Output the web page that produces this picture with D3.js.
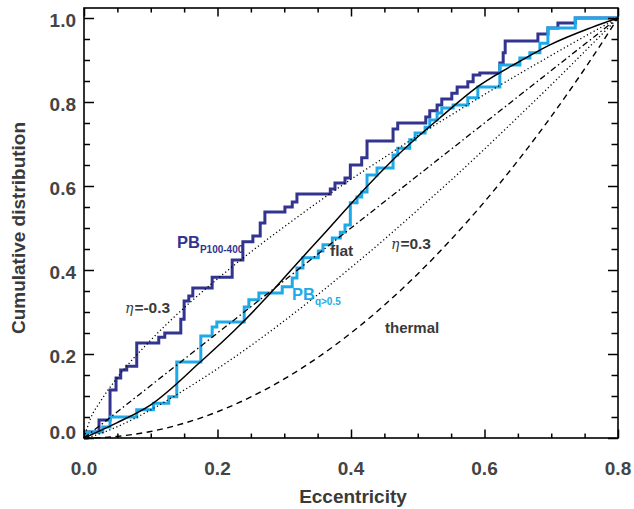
<!DOCTYPE html>
<html><head><meta charset="utf-8">
<script src="https://cdn.jsdelivr.net/npm/d3@7"></script>
<style>
html,body{margin:0;padding:0;background:#fff;}
svg{display:block;}
</style></head>
<body>
<svg id="chart" width="634" height="509"></svg>
<script>
// ---- data ----
const xMajorTicks = [0, 0.2, 0.4, 0.6, 0.8];
const xTickLabels = ["0.0", "0.2", "0.4", "0.6", "0.8"];
const xMinorTicks = [0.05,0.1,0.15,0.25,0.3,0.35,0.45,0.5,0.55,0.65,0.7,0.75];
const yMajorTicks = [0, 0.2, 0.4, 0.6, 0.8, 1.0];
const yTickLabels = ["0.0", "0.2", "0.4", "0.6", "0.8", "1.0"];
const yMinorTicks = [0.05,0.1,0.15,0.25,0.3,0.35,0.45,0.5,0.55,0.65,0.7,0.75,0.85,0.9,0.95];

// theoretical curves
const modelE      = [0, 0.01, 0.025, 0.05, 0.1, 0.15, 0.2, 0.25, 0.3, 0.35, 0.4, 0.45, 0.5, 0.55, 0.6, 0.65, 0.7, 0.75, 0.8];
const etaMinusF   = [0, 0.047, 0.088, 0.144, 0.233, 0.310, 0.379, 0.443, 0.503, 0.561, 0.616, 0.668, 0.720, 0.769, 0.818, 0.865, 0.911, 0.956, 1.0];
const etaPlusF    = [0, 0.003, 0.011, 0.027, 0.067, 0.114, 0.165, 0.220, 0.279, 0.341, 0.406, 0.473, 0.543, 0.614, 0.688, 0.764, 0.841, 0.920, 1.0];
const thermalF    = [0, 0.0002, 0.001, 0.0039, 0.0156, 0.0352, 0.0625, 0.0977, 0.1406, 0.1914, 0.25, 0.3164, 0.3906, 0.4727, 0.5625, 0.6602, 0.7656, 0.8789, 1.0];
const uniformF    = [0, 0.0125, 0.031, 0.0625, 0.125, 0.1875, 0.25, 0.3125, 0.375, 0.4375, 0.5, 0.5625, 0.625, 0.6875, 0.75, 0.8125, 0.875, 0.9375, 1.0];
const flatE       = [0, 0.049, 0.1, 0.175, 0.226, 0.27, 0.313, 0.36, 0.411, 0.473, 0.533, 0.593, 0.653, 0.698, 0.758, 0.8];
const flatF       = [0, 0.036, 0.079, 0.182, 0.257, 0.329, 0.405, 0.487, 0.577, 0.678, 0.762, 0.840, 0.897, 0.936, 0.976, 1.0];

// empirical cumulative distributions
const pb100E = [0, 0.0045, 0.0225, 0.039, 0.048, 0.055, 0.064, 0.079, 0.112, 0.121, 0.145, 0.150, 0.157, 0.163, 0.192, 0.222, 0.238, 0.253, 0.264, 0.271, 0.301, 0.312, 0.319, 0.369, 0.376, 0.391, 0.399, 0.416, 0.424, 0.463, 0.470, 0.512, 0.518, 0.529, 0.536, 0.551, 0.559, 0.575, 0.583, 0.593, 0.623, 0.628, 0.631, 0.680, 0.695, 0.710, 0.736, 0.8];
const pb100F = [0, 0.014, 0.043, 0.114, 0.143, 0.162, 0.171, 0.226, 0.240, 0.250, 0.283, 0.326, 0.338, 0.357, 0.383, 0.424, 0.467, 0.481, 0.512, 0.538, 0.550, 0.562, 0.581, 0.593, 0.607, 0.619, 0.650, 0.667, 0.707, 0.736, 0.750, 0.764, 0.779, 0.793, 0.807, 0.821, 0.836, 0.848, 0.864, 0.869, 0.893, 0.917, 0.945, 0.962, 0.976, 0.988, 1.0, 1.0];
const pbqE   = [0, 0.0045, 0.028, 0.039, 0.079, 0.104, 0.127, 0.139, 0.175, 0.192, 0.199, 0.240, 0.247, 0.262, 0.297, 0.312, 0.319, 0.328, 0.351, 0.358, 0.372, 0.384, 0.391, 0.399, 0.409, 0.416, 0.424, 0.439, 0.463, 0.470, 0.488, 0.496, 0.511, 0.518, 0.529, 0.536, 0.553, 0.575, 0.590, 0.623, 0.653, 0.668, 0.683, 0.695, 0.736, 0.8];
const pbqF   = [0, 0.014, 0.026, 0.050, 0.067, 0.083, 0.098, 0.181, 0.243, 0.264, 0.276, 0.312, 0.329, 0.345, 0.360, 0.381, 0.405, 0.429, 0.445, 0.460, 0.476, 0.490, 0.507, 0.560, 0.574, 0.586, 0.626, 0.643, 0.674, 0.690, 0.710, 0.726, 0.740, 0.757, 0.774, 0.786, 0.793, 0.810, 0.836, 0.888, 0.905, 0.917, 0.940, 0.976, 1.0, 1.0];

// ---- drawing ----
const svg = d3.select("#chart");
svg.append("rect").attr("width",634).attr("height",509).attr("fill","#fff");
const x = d3.scaleLinear().domain([0, 0.8]).range([84, 618]);
const y = d3.scaleLinear().domain([0, 1]).range([438, 18]);
const yTop = 8, yBot = 438, xL = 84, xR = 618;

const DARK = "#33348f", LIGHT = "#1eaae8", TXT = "#3a3a3a";
const sans = "'Liberation Sans', Arial, Helvetica, sans-serif";

const zip = (a, b) => a.map((v, i) => [v, b[i]]);
const stepLine = d3.line().x(d => x(d[0])).y(d => y(d[1])).curve(d3.curveStepAfter);
const smooth = d3.line().x(d => x(d[0])).y(d => y(d[1])).curve(d3.curveMonotoneX);

const plot = svg.append("g");
plot.append("path").attr("d", stepLine(zip(pb100E, pb100F)))
  .attr("fill","none").attr("stroke",DARK).attr("stroke-width",3).attr("stroke-linejoin","miter");
plot.append("path").attr("d", stepLine(zip(pbqE, pbqF)))
  .attr("fill","none").attr("stroke",LIGHT).attr("stroke-width",3).attr("stroke-linejoin","miter");

const models = [
  {f: etaMinusF, e: modelE, dash: "1.2,2.6", w: 1.3},
  {f: etaPlusF,  e: modelE, dash: "1.2,2.6", w: 1.3},
  {f: thermalF,  e: modelE, dash: "6,4.5", w: 1.4},
  {f: uniformF,  e: modelE, dash: "6,3,1.5,3", w: 1.3},
  {f: flatF,     e: flatE,  dash: null, w: 1.5}
];
models.forEach(m => {
  const p = plot.append("path").attr("d", smooth(zip(m.e, m.f)))
    .attr("fill","none").attr("stroke","#000").attr("stroke-width",m.w);
  if (m.dash) p.attr("stroke-dasharray", m.dash);
});

// frame
svg.append("rect").attr("x",xL).attr("y",yTop).attr("width",xR-xL).attr("height",yBot-yTop)
  .attr("fill","none").attr("stroke","#000").attr("stroke-width",1.6);

// axes via d3 axis generators
function addAxis(gen, vals, size, tx, ty) {
  const g = svg.append("g").attr("transform",`translate(${tx},${ty})`)
    .call(gen.tickValues(vals).tickSize(size).tickFormat(""));
  g.select(".domain").remove();
  g.selectAll(".tick line").attr("stroke","#000").attr("stroke-width",1.5);
  return g;
}
// bottom (ticks inward => negative size)
addAxis(d3.axisBottom(x), xMajorTicks, -8.5, 0, yBot);
addAxis(d3.axisBottom(x), xMinorTicks, -4.5, 0, yBot);
addAxis(d3.axisTop(x), xMajorTicks, -8.5, 0, yTop);
addAxis(d3.axisTop(x), xMinorTicks, -4.5, 0, yTop);
addAxis(d3.axisLeft(y), yMajorTicks, -10, xL, 0);
addAxis(d3.axisLeft(y), yMinorTicks, -6, xL, 0);
addAxis(d3.axisRight(y), yMajorTicks, -10, xR, 0);
addAxis(d3.axisRight(y), yMinorTicks, -6.5, xR, 0);

// tick labels
svg.append("g").selectAll("text").data(xMajorTicks).join("text")
  .attr("x", d => x(d)).attr("y", 475).attr("text-anchor","middle")
  .attr("font-family", sans).attr("font-weight","bold").attr("font-size",19).attr("fill","#444")
  .text((d,i) => xTickLabels[i]);
svg.append("g").selectAll("text").data(yMajorTicks).join("text")
  .attr("x", 76).attr("y", d => y(d) + (d === 0 ? 1 : 9)).attr("text-anchor","end")
  .attr("font-family", sans).attr("font-weight","bold").attr("font-size",19).attr("fill","#444")
  .text((d,i) => yTickLabels[i]);

// axis titles
svg.append("text").attr("x", 353).attr("y", 503).attr("text-anchor","middle")
  .attr("font-family", sans).attr("font-weight","bold").attr("font-size",19).attr("fill",TXT)
  .text("Eccentricity");
svg.append("text").attr("transform","translate(25,228) rotate(-90)").attr("text-anchor","middle")
  .attr("font-family", sans).attr("font-weight","bold").attr("font-size",19).attr("fill",TXT)
  .text("Cumulative distribution");

// annotations
function eta(xp, yp, val) {
  const t = svg.append("text").attr("x", xp).attr("y", yp).attr("fill", TXT);
  t.append("tspan").attr("font-family","'DejaVu Serif', serif").attr("font-style","italic")
    .attr("font-size",14).text("η");
  t.append("tspan").attr("font-family", sans).attr("font-weight","bold").attr("font-size",15.5)
    .attr("dx",1).text("=" + val);
}
eta(125, 313, "-0.3");
eta(391, 249, "0.3");
svg.append("text").attr("x",330).attr("y",256).attr("font-family",sans).attr("font-weight","bold")
  .attr("font-size",15.5).attr("fill",TXT).text("flat");
svg.append("text").attr("x",385).attr("y",333).attr("font-family",sans).attr("font-weight","bold")
  .attr("font-size",15).attr("fill",TXT).text("thermal");

function pbLabel(xp, yp, sub, col) {
  const t = svg.append("text").attr("x", xp).attr("y", yp).attr("fill", col)
    .attr("font-family", sans).attr("font-weight","bold");
  t.append("tspan").attr("font-size",16.5).text("PB");
  t.append("tspan").attr("font-size",10).attr("dy",5).text(sub);
}
pbLabel(177, 248, "P100-400", DARK);
pbLabel(292, 300, "q>0.5", LIGHT);
</script>
</body></html>
